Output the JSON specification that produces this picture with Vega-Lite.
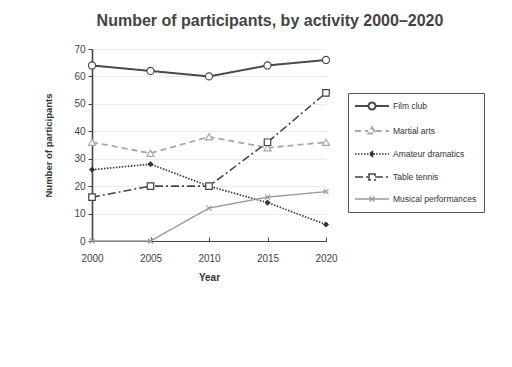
{
  "$schema": "https://vega.github.io/schema/vega-lite/v6.json",
  "width": 234,
  "height": 192,
  "autosize": "none",
  "padding": {"left": 92, "top": 49, "right": 186, "bottom": 126},
  "background": "white",
  "config": {
    "font": "Liberation Sans",
    "view": {"stroke": null},
    "axis": {"labelFont": "Liberation Sans", "titleFont": "Liberation Sans", "labelColor": "#444", "titleColor": "#333", "domainColor": "#444", "tickColor": "#444", "labelFlush": false}
  },
  "title": {
    "text": "Number of participants, by activity 2000–2020",
    "fontSize": 16,
    "fontWeight": "bold",
    "color": "#444",
    "anchor": "middle",
    "dx": 61,
    "offset": 15
  },
  "data": {
    "values": [
      {"year": 2000, "activity": "Film club", "value": 64},
      {"year": 2005, "activity": "Film club", "value": 62},
      {"year": 2010, "activity": "Film club", "value": 60},
      {"year": 2015, "activity": "Film club", "value": 64},
      {"year": 2020, "activity": "Film club", "value": 66},
      {"year": 2000, "activity": "Martial arts", "value": 36},
      {"year": 2005, "activity": "Martial arts", "value": 32},
      {"year": 2010, "activity": "Martial arts", "value": 38},
      {"year": 2015, "activity": "Martial arts", "value": 34},
      {"year": 2020, "activity": "Martial arts", "value": 36},
      {"year": 2000, "activity": "Amateur dramatics", "value": 26},
      {"year": 2005, "activity": "Amateur dramatics", "value": 28},
      {"year": 2010, "activity": "Amateur dramatics", "value": 20},
      {"year": 2015, "activity": "Amateur dramatics", "value": 14},
      {"year": 2020, "activity": "Amateur dramatics", "value": 6},
      {"year": 2000, "activity": "Table tennis", "value": 16},
      {"year": 2005, "activity": "Table tennis", "value": 20},
      {"year": 2010, "activity": "Table tennis", "value": 20},
      {"year": 2015, "activity": "Table tennis", "value": 36},
      {"year": 2020, "activity": "Table tennis", "value": 54},
      {"year": 2000, "activity": "Musical performances", "value": 0},
      {"year": 2005, "activity": "Musical performances", "value": 0},
      {"year": 2010, "activity": "Musical performances", "value": 12},
      {"year": 2015, "activity": "Musical performances", "value": 16},
      {"year": 2020, "activity": "Musical performances", "value": 18}
    ]
  },
  "encoding": {
    "x": {
      "field": "year", "type": "quantitative",
      "scale": {"domain": [2000, 2020], "nice": false},
      "axis": {"values": [2000, 2005, 2010, 2015, 2020], "format": "d", "title": "Year", "titleFontSize": 10, "titleFontWeight": "bold", "labelFontSize": 10, "grid": false, "tickSize": -4, "titlePadding": 9, "labelPadding": 16, "domainWidth": 1.2}
    },
    "y": {
      "field": "value", "type": "quantitative",
      "scale": {"domain": [0, 70], "nice": false},
      "axis": {"values": [0, 10, 20, 30, 40, 50, 60, 70], "title": "Number of participants", "titleFontSize": 9.5, "titleFontWeight": "bold", "labelFontSize": 10, "grid": true, "gridColor": "#e6e6e6", "gridWidth": 0.8, "tickSize": 4, "titlePadding": 20, "labelPadding": 3, "domainWidth": 1.6}
    },
    "color": {
      "field": "activity", "type": "nominal",
      "scale": {
        "domain": ["Film club", "Martial arts", "Amateur dramatics", "Table tennis", "Musical performances"],
        "range": ["#4a4a4a", "#a8a8a8", "#3a3a3a", "#444444", "#9a9a9a"]
      },
      "legend": {
        "title": null,
        "orient": "none",
        "legendX": 256,
        "legendY": 44,
        "strokeColor": "#555",
        "padding": 7,
        "labelFontSize": 8.5,
        "labelColor": "#333",
        "symbolType": "stroke",
        "symbolSize": 100,
        "rowPadding": 9,
        "labelOffset": 26,
        "symbolStrokeWidth": 1.5,
        "encode": {
          "symbols": {
            "update": {
              "size": {"value": 100},
              "shape": {"signal": "datum.value === 'Film club' ? 'M-1.2,0L1.5,0M2.9,0L5.6,0M1.5,0A0.7,0.7,0,1,0,2.9,0A0.7,0.7,0,1,0,1.5,0' : datum.value === 'Martial arts' ? 'M-1.2,0L1.45,0M2.95,0L5.6,0M2.2,-0.8L2.95,0.5L1.45,0.5Z' : datum.value === 'Amateur dramatics' ? 'M-1.2,0L5.6,0M2.2,-0.6L2.65,0L2.2,0.6L1.75,0Z' : datum.value === 'Table tennis' ? 'M-1.2,0L1.6,0M2.8,0L5.6,0M1.6,-0.6L2.8,-0.6L2.8,0.6L1.6,0.6Z' : 'M-1.2,0L5.6,0M1.7,-0.5L2.7,0.5M1.7,0.5L2.7,-0.5'"},
              "fill": {"signal": "datum.value === 'Amateur dramatics' ? '#333' : 'white'"},
              "stroke": {"scale": "color", "field": "value"},
              "strokeWidth": {"signal": "datum.value === 'Film club' ? 2 : 1.2"},
              "opacity": {"value": 1}
            }
          }
        }
      }
    }
  },
  "layer": [
    {
      "mark": {"type": "line"},
      "encoding": {
        "strokeDash": {
          "field": "activity", "type": "nominal",
          "scale": {
            "domain": ["Film club", "Martial arts", "Amateur dramatics", "Table tennis", "Musical performances"],
            "range": [[1, 0], [6, 4], [1.5, 1.5], [8, 3, 2, 3], [1, 0]]
          },
          "legend": null
        },
        "strokeWidth": {
          "field": "activity", "type": "nominal",
          "scale": {
            "domain": ["Film club", "Martial arts", "Amateur dramatics", "Table tennis", "Musical performances"],
            "range": [2, 1.4, 1.4, 1.3, 1.4]
          },
          "legend": null
        }
      }
    },
    {
      "transform": [{"filter": "datum.activity === 'Film club'"}],
      "mark": {"type": "point", "shape": "circle", "filled": false, "fill": "white", "size": 50, "strokeWidth": 1.2, "opacity": 1}
    },
    {
      "transform": [{"filter": "datum.activity === 'Martial arts'"}],
      "mark": {"type": "point", "shape": "triangle-up", "filled": false, "fill": "white", "size": 50, "strokeWidth": 1.2, "opacity": 1}
    },
    {
      "transform": [{"filter": "datum.activity === 'Amateur dramatics'"}],
      "mark": {"type": "point", "shape": "diamond", "filled": false, "fill": "#333333", "size": 26, "strokeWidth": 1, "opacity": 1}
    },
    {
      "transform": [{"filter": "datum.activity === 'Table tennis'"}],
      "mark": {"type": "point", "shape": "square", "filled": false, "fill": "white", "size": 42, "strokeWidth": 1.2, "opacity": 1}
    },
    {
      "transform": [{"filter": "datum.activity === 'Musical performances'"}],
      "mark": {"type": "point", "shape": "M-1,-1L1,1M-1,1L1,-1", "filled": false, "size": 25, "strokeWidth": 1.3, "opacity": 1}
    }
  ]
}
